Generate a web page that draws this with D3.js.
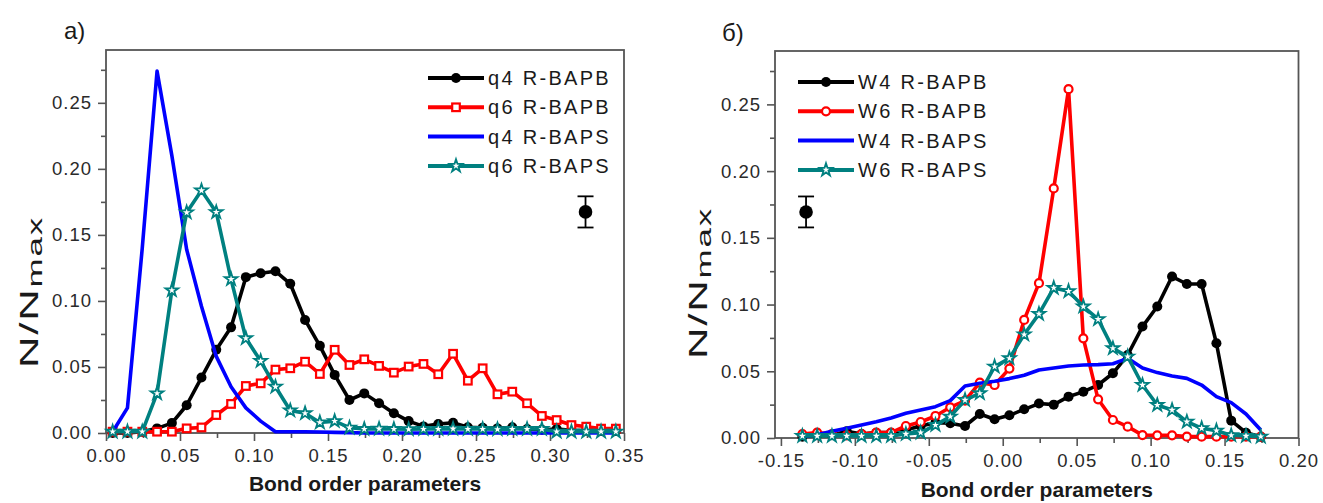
<!DOCTYPE html>
<html>
<head>
<meta charset="utf-8">
<script src="https://cdn.jsdelivr.net/npm/d3@7"></script>
<style>
  body { margin: 0; background: #fff; }
  svg { display: block; }
  text { font-family: "Liberation Sans", Arial, sans-serif; }
</style>
</head>
<body>
<svg id="chart" width="1323" height="503"></svg>
<script>
// ---- panel a): q4 / q6 distributions ----
const binsA = [0.0045, 0.0145, 0.0245, 0.0345, 0.0445, 0.0545, 0.0645, 0.0745, 0.0845, 0.0945,
               0.1045, 0.1145, 0.1245, 0.1345, 0.1445, 0.1545, 0.1645, 0.1745, 0.1845, 0.1945,
               0.2045, 0.2145, 0.2245, 0.2345, 0.2445, 0.2545, 0.2645, 0.2745, 0.2845, 0.2945,
               0.3045, 0.3145, 0.3245, 0.3345, 0.3445];
const q4BAPB = [0.000, 0.000, 0.001, 0.0035, 0.0075, 0.021, 0.042, 0.063, 0.080, 0.118,
                0.121, 0.1225, 0.113, 0.0856, 0.066, 0.044, 0.025, 0.030, 0.0225, 0.015,
                0.009, 0.005, 0.0068, 0.0078, 0.0043, 0.004, 0.0035, 0.0043, 0.003, 0.0025,
                0.003, 0.002, 0.0018, 0.0015, 0.0015];
const q6BAPB = [0.001, 0.001, 0.001, 0.001, 0.001, 0.0035, 0.0042, 0.0136, 0.022, 0.0356,
                0.0376, 0.048, 0.049, 0.054, 0.0447, 0.063, 0.0515, 0.0558, 0.0508, 0.0457,
                0.0503, 0.0523, 0.0445, 0.060, 0.0396, 0.049, 0.0293, 0.0313, 0.0225, 0.0129,
                0.0098, 0.006, 0.0048, 0.0033, 0.0033];
const q4BAPS = [0.001, 0.019, 0.140, 0.274, 0.210, 0.139, 0.096, 0.058, 0.035, 0.019,
                0.009, 0.001, 0.001, 0.001, 0.0008, 0.0005, 0.0003, 0, 0, 0,
                0, 0, 0, 0, 0, 0, 0, 0, 0, 0,
                0, 0, 0, 0, 0];
const q6BAPS = [0.001, 0.001, 0.001, 0.030, 0.108, 0.167, 0.1836, 0.1672, 0.1164, 0.0717,
                0.0545, 0.035, 0.017, 0.0149, 0.008, 0.009, 0.004, 0.003, 0.0032, 0.003,
                0.0028, 0.003, 0.003, 0.0032, 0.003, 0.003, 0.0028, 0.003, 0.003, 0.003,
                0.001, 0.001, 0.001, 0.001, 0.001];

// ---- panel б): W4 / W6 distributions ----
const binsB = [-0.1355, -0.1255, -0.1155, -0.1055, -0.0955, -0.0855, -0.0755, -0.0655, -0.0555, -0.0455,
               -0.0355, -0.0255, -0.0155, -0.0055, 0.0045, 0.0145, 0.0245, 0.0345, 0.0445, 0.0545,
               0.0645, 0.0745, 0.0845, 0.0945, 0.1045, 0.1145, 0.1245, 0.1345, 0.1445, 0.1545,
               0.1645, 0.1745];
const w4BAPB = [0.001, 0.002, 0.002, 0.005, 0.003, 0.004, 0.004, 0.006, 0.009, 0.0115,
                0.011, 0.009, 0.018, 0.014, 0.017, 0.0215, 0.0258, 0.025, 0.031, 0.0347,
                0.0397, 0.0485, 0.0622, 0.0835, 0.0985, 0.121, 0.1154, 0.1154, 0.071, 0.013,
                0.004, 0.001];
const w6BAPB = [0.003, 0.004, 0.003, 0.002, 0.003, 0.004, 0.004, 0.009, 0.012, 0.0165,
                0.023, 0.028, 0.0415, 0.0397, 0.052, 0.0885, 0.116, 0.187, 0.2614, 0.0747,
                0.029, 0.0135, 0.0085, 0.0022, 0.002, 0.002, 0.001, 0.001, 0.001, 0.001,
                0.001, 0.001];
const w4BAPS = [0.001, 0.0025, 0.005, 0.0073, 0.0098, 0.0122, 0.015, 0.0185, 0.021, 0.0235,
                0.028, 0.039, 0.041, 0.0425, 0.0445, 0.047, 0.051, 0.0525, 0.054, 0.0547,
                0.055, 0.0556, 0.0597, 0.0525, 0.049, 0.0465, 0.0447, 0.0397, 0.031, 0.0265,
                0.018, 0.006];
const w6BAPS = [0.0015, 0.0015, 0.0015, 0.0015, 0.0015, 0.0015, 0.0015, 0.003, 0.004, 0.0097,
                0.016, 0.0285, 0.0335, 0.0535, 0.0597, 0.0775, 0.093, 0.1125, 0.110, 0.0985,
                0.089, 0.0672, 0.061, 0.0397, 0.0247, 0.021, 0.0122, 0.0073, 0.0055, 0.002,
                0.0015, 0.001];

// ---- axis ticks ----
const ticksXA = [0, 0.05, 0.10, 0.15, 0.20, 0.25, 0.30, 0.35];
const minorXA = [0.025, 0.075, 0.125, 0.175, 0.225, 0.275, 0.325];
const ticksXB = [-0.15, -0.10, -0.05, 0, 0.05, 0.10, 0.15, 0.20];
const minorXB = [-0.125, -0.075, -0.025, 0.025, 0.075, 0.125, 0.175];
const ticksY = [0, 0.05, 0.10, 0.15, 0.20, 0.25];
const minorY = [0.025, 0.075, 0.125, 0.175, 0.225, 0.275];

// ---- series names and typical error bars ----
const namesA = ["q4 R-BAPB", "q6 R-BAPB", "q4 R-BAPS", "q6 R-BAPS"];
const namesB = ["W4 R-BAPB", "W6 R-BAPB", "W4 R-BAPS", "W6 R-BAPS"];
const errA = [0.324, 0.1674, 0.0118];
const errB = [-0.133, 0.1694, 0.0116];

const svg = d3.select("#chart");
const BLACK = "#000000", RED = "#ff0000", BLUE = "#0000ff", TEAL = "#008080";

function marker(g, kind, color, cx, cy) {
  if (kind === "dot") {
    g.append("circle").attr("cx", cx).attr("cy", cy).attr("r", 5).attr("fill", color);
  } else if (kind === "square") {
    g.append("rect").attr("x", cx - 3.8).attr("y", cy - 3.8).attr("width", 7.6).attr("height", 7.6)
      .attr("fill", "#fff").attr("stroke", color).attr("stroke-width", 2.2);
  } else if (kind === "ring") {
    g.append("circle").attr("cx", cx).attr("cy", cy).attr("r", 4)
      .attr("fill", "#fff").attr("stroke", color).attr("stroke-width", 2.2);
  } else if (kind === "star") {
    g.append("path").attr("d", d3.symbol(d3.symbolStar, 50)())
      .attr("transform", `translate(${cx},${cy})`)
      .attr("fill", "#fff").attr("stroke", color).attr("stroke-width", 1.8);
  }
}

function panel(cfg) {
  const x = d3.scaleLinear().domain(cfg.xDomain).range(cfg.xRange);
  const y = d3.scaleLinear().domain([0, 0.29]).range(cfg.yRange);
  const g = svg.append("g");
  const fmt = d => d.toFixed(2);

  // x axis: major + minor ticks
  const ax = g.append("g").attr("transform", `translate(0,${cfg.yRange[0]})`)
    .call(d3.axisBottom(x).tickValues(cfg.ticksX).tickFormat(fmt).tickSize(8).tickPadding(4));
  g.append("g").attr("transform", `translate(0,${cfg.yRange[0]})`)
    .call(d3.axisBottom(x).tickValues(cfg.minorX).tickFormat("").tickSize(5));
  g.append("g").attr("transform", `translate(${cfg.xRange[0]},0)`)
    .call(d3.axisLeft(y).tickValues(ticksY).tickFormat(fmt).tickSize(8).tickPadding(6));
  g.append("g").attr("transform", `translate(${cfg.xRange[0]},0)`)
    .call(d3.axisLeft(y).tickValues(minorY).tickFormat("").tickSize(5));
  g.selectAll(".domain").remove();
  g.selectAll(".tick line").attr("stroke", "#555").attr("stroke-width", 1.6);
  g.selectAll(".tick text").attr("font-size", 18.5).attr("fill", "#2a2a2a")
    .attr("letter-spacing", "1px").attr("font-family", "'Liberation Sans', Arial, sans-serif");
  ax.selectAll(".tick text").attr("dy", "0.9em");

  // frame
  g.append("rect").attr("x", cfg.xRange[0]).attr("y", cfg.yRange[1])
    .attr("width", cfg.xRange[1] - cfg.xRange[0]).attr("height", cfg.yRange[0] - cfg.yRange[1])
    .attr("fill", "none").attr("stroke", "#555").attr("stroke-width", 1.8);

  // series
  const plot = g.append("g");
  cfg.series.forEach(s => {
    const pts = cfg.bins.map((b, i) => [b, s.values[i]]);
    plot.append("path").datum(pts)
      .attr("d", d3.line().x(d => x(d[0])).y(d => y(d[1])))
      .attr("fill", "none").attr("stroke", s.color).attr("stroke-width", 3.6)
      .attr("stroke-linejoin", "round");
    if (s.marker) pts.forEach(p => marker(plot, s.marker, s.color, x(p[0]), y(p[1])));
  });

  // legend
  const lg = g.append("g");
  cfg.series.forEach((s, i) => {
    const ly = cfg.legend.y + i * 29.3;
    lg.append("line").attr("x1", cfg.legend.x).attr("x2", cfg.legend.x + 56)
      .attr("y1", ly).attr("y2", ly).attr("stroke", s.color).attr("stroke-width", 4);
    if (s.marker) marker(lg, s.marker, s.color, cfg.legend.x + 28, ly);
    lg.append("text").attr("x", cfg.legend.x + 60).attr("y", ly + 7)
      .attr("font-size", 20).attr("letter-spacing", "2.3px").attr("fill", "#1a1a1a")
      .text(s.name);
  });

  // typical error bar
  const [ex, ey, ee] = cfg.err;
  const eg = g.append("g").attr("stroke", "#000").attr("stroke-width", 1.8);
  eg.append("line").attr("x1", x(ex)).attr("x2", x(ex)).attr("y1", y(ey + ee)).attr("y2", y(ey - ee));
  eg.append("line").attr("x1", x(ex) - 8).attr("x2", x(ex) + 8).attr("y1", y(ey + ee)).attr("y2", y(ey + ee));
  eg.append("line").attr("x1", x(ex) - 8).attr("x2", x(ex) + 8).attr("y1", y(ey - ee)).attr("y2", y(ey - ee));
  g.append("circle").attr("cx", x(ex)).attr("cy", y(ey)).attr("r", 6.8).attr("fill", "#000");

  // axis titles
  g.append("text").attr("x", (cfg.xRange[0] + cfg.xRange[1]) / 2).attr("y", cfg.titleY)
    .attr("text-anchor", "middle").attr("font-size", 21).attr("font-weight", "bold")
    .attr("fill", "#1a1a1a").text("Bond order parameters");
  // vertical title, drawn wide along its reading direction
  const yt = g.append("text")
    .attr("transform", `translate(${cfg.yTitleX},${cfg.yTitleY}) rotate(-90) scale(1.75,1)`)
    .attr("text-anchor", "middle").attr("font-size", 25).attr("fill", "#1a1a1a")
    .attr("letter-spacing", "1px");
  yt.append("tspan").text("N/N");
  yt.append("tspan").attr("font-size", 20).attr("dy", 4).text("max");

  // panel label
  g.append("text").attr("x", cfg.label.x).attr("y", cfg.label.y)
    .attr("font-size", 24).attr("fill", "#1a1a1a").text(cfg.label.text);
}

panel({
  xDomain: [0, 0.35], xRange: [106, 624], yRange: [433, 50],
  bins: binsA, ticksX: ticksXA, minorX: minorXA,
  series: [
    { name: namesA[0], values: q4BAPB, color: BLACK, marker: "dot" },
    { name: namesA[1], values: q6BAPB, color: RED, marker: "square" },
    { name: namesA[2], values: q4BAPS, color: BLUE, marker: null },
    { name: namesA[3], values: q6BAPS, color: TEAL, marker: "star" }
  ],
  legend: { x: 428, y: 78 },
  err: errA,
  titleY: 491, yTitleX: 38, yTitleY: 292,
  label: { x: 64, y: 39, text: "a)" }
});

panel({
  xDomain: [-0.154, 0.20], xRange: [775, 1298.5], yRange: [438, 51],
  bins: binsB, ticksX: ticksXB, minorX: minorXB,
  series: [
    { name: namesB[0], values: w4BAPB, color: BLACK, marker: "dot" },
    { name: namesB[1], values: w6BAPB, color: RED, marker: "ring" },
    { name: namesB[2], values: w4BAPS, color: BLUE, marker: null },
    { name: namesB[3], values: w6BAPS, color: TEAL, marker: "star" }
  ],
  legend: { x: 798, y: 82 },
  err: errB,
  titleY: 497, yTitleX: 707, yTitleY: 283,
  label: { x: 722, y: 41, text: "б)" }
});
</script>
</body>
</html>
